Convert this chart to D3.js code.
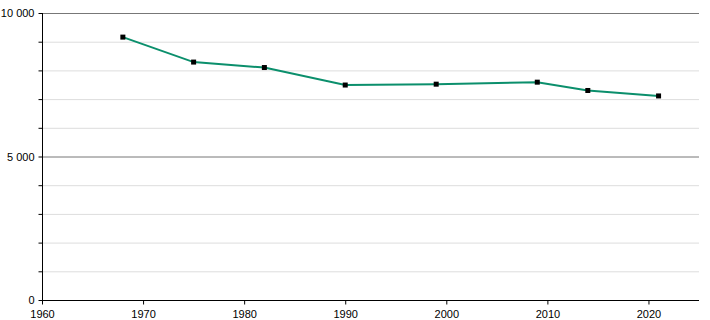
<!DOCTYPE html>
<html><head><meta charset="utf-8">
<script src="https://cdn.jsdelivr.net/npm/d3@7"></script>
<style>body{margin:0;background:#fff}svg{display:block}text{font-family:"Liberation Sans",Arial,sans-serif;font-size:11px;fill:#000}</style>
</head><body><svg id="c" width="710" height="320"></svg>
<script>
const years = [1968, 1975, 1982, 1990, 1999, 2009, 2014, 2021];
const population = [9160, 8290, 8100, 7490, 7520, 7590, 7300, 7110];
const xTicks = [1960, 1970, 1980, 1990, 2000, 2010, 2020];
const yMajor = [0, 5000, 10000];
const yMinor = [1000, 2000, 3000, 4000, 6000, 7000, 8000, 9000];

const svg = d3.select("#c");
const x = d3.scaleLinear().domain([1960, 2025]).range([42, 699]);
const y = d3.scaleLinear().domain([0, 10000]).range([300, 13]);
const fmt = v => d3.format(",")(v).replace(/,/g, " ");

// minor grid
svg.append("g").selectAll("line").data(yMinor).join("line")
  .attr("x1", 42).attr("x2", 699).attr("y1", d => y(d)+0.5).attr("y2", d => y(d)+0.5)
  .attr("stroke", "#dddddd").attr("stroke-width", 1);
// major grid
svg.append("g").selectAll("line").data(yMajor.filter(d => d > 0)).join("line")
  .attr("x1", 42).attr("x2", 699).attr("y1", d => y(d)+0.5).attr("y2", d => y(d)+0.5)
  .attr("stroke", "#777777").attr("stroke-width", 1);

// y axis
const ya = svg.append("g").attr("transform", "translate(42.5,0)")
  .call(d3.axisLeft(y).tickValues(yMajor.concat(yMinor)).tickSize(4).tickFormat(d => yMajor.includes(d) ? fmt(d) : ""));
ya.select(".domain").attr("stroke", "#000").attr("d", `M0,${y(10000)}V${y(0)}`);
ya.selectAll(".tick line").attr("stroke", "#000");
ya.selectAll("text").attr("font-size", 11).attr("x", -8).attr("font-family", "Liberation Sans, Arial, sans-serif");

// x axis
const xa = svg.append("g").attr("transform", "translate(0,300.5)")
  .call(d3.axisBottom(x).tickValues(xTicks).tickSize(4).tickFormat(d3.format("d")));
xa.select(".domain").attr("stroke", "#000").attr("d", `M${x(1960)},0H${x(2025)}`);
xa.selectAll(".tick line").attr("stroke", "#000");
xa.selectAll("text").attr("font-size", 11).attr("y", 10).attr("font-family", "Liberation Sans, Arial, sans-serif");

const data = years.map((yr, i) => ({yr, v: population[i]}));
svg.append("path").datum(data)
  .attr("fill", "none").attr("stroke", "#0b8f6c").attr("stroke-width", 2)
  .attr("d", d3.line().x(d => x(d.yr)).y(d => y(d.v)));
svg.append("g").selectAll("rect").data(data).join("rect")
  .attr("x", d => x(d.yr) - 2.5).attr("y", d => y(d.v) - 2.5)
  .attr("width", 5).attr("height", 5).attr("fill", "#000");
</script></body></html>
